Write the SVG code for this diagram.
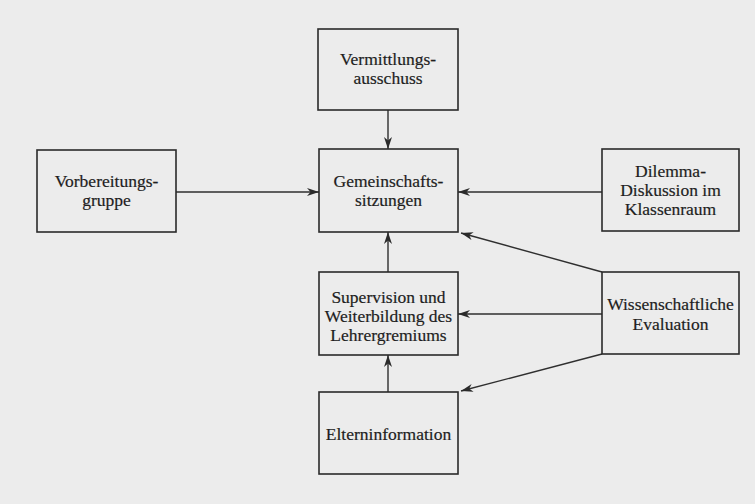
<svg xmlns="http://www.w3.org/2000/svg" width="755" height="504" viewBox="0 0 755 504">
<defs>
<style>
.box{fill:none;stroke:#2a2a2a;stroke-width:1.6}
.t{font-family:"Liberation Serif","Times New Roman",serif;font-size:17.5px;fill:#1e1e1e;text-anchor:middle;stroke:#1e1e1e;stroke-width:0.2}
.c{stroke:#2f2f2f;stroke-width:1.4;fill:none;marker-end:url(#ah)}
</style>
<marker id="ah" viewBox="0 0 12 8" refX="12" refY="4" markerWidth="12" markerHeight="8" markerUnits="userSpaceOnUse" orient="auto">
<path d="M0,0 L12,4 L0,8 L3.5,4 Z" fill="#2a2a2a"/>
</marker>
</defs>
<rect width="755" height="504" fill="#ececec"/>
<g id="connectors">
<line class="c" x1="388" y1="110" x2="388" y2="149"/>
<line class="c" x1="176" y1="192" x2="319" y2="192"/>
<line class="c" x1="602" y1="192" x2="458" y2="192"/>
<line class="c" x1="388" y1="272" x2="388" y2="232"/>
<line class="c" x1="602" y1="314" x2="458" y2="314"/>
<line class="c" x1="388" y1="392" x2="388" y2="355"/>
<line class="c" x1="602" y1="272" x2="461" y2="233"/>
<line class="c" x1="602" y1="354" x2="461" y2="391"/>
</g>
<g id="vermittlungsausschuss">
<rect class="box" x="318" y="29" width="140" height="81"/>
<text class="t" x="388" y="65">Vermittlungs-</text>
<text class="t" x="388" y="84">ausschuss</text>
</g>
<g id="vorbereitungsgruppe">
<rect class="box" x="37" y="150" width="139" height="82"/>
<text class="t" x="106.5" y="187">Vorbereitungs-</text>
<text class="t" x="106.5" y="206">gruppe</text>
</g>
<g id="gemeinschaftssitzungen">
<rect class="box" x="319" y="149" width="139" height="83"/>
<text class="t" x="388.5" y="187">Gemeinschafts-</text>
<text class="t" x="388.5" y="206">sitzungen</text>
</g>
<g id="dilemma">
<rect class="box" x="602" y="149" width="137" height="82"/>
<text class="t" x="670.5" y="177">Dilemma-</text>
<text class="t" x="670.5" y="196">Diskussion im</text>
<text class="t" x="670.5" y="215">Klassenraum</text>
</g>
<g id="supervision">
<rect class="box" x="319" y="272" width="139" height="83"/>
<text class="t" x="388.5" y="303">Supervision und</text>
<text class="t" x="388.5" y="322">Weiterbildung des</text>
<text class="t" x="388.5" y="341">Lehrergremiums</text>
</g>
<g id="evaluation">
<rect class="box" x="602" y="272" width="137" height="82"/>
<text class="t" x="670.5" y="310">Wissenschaftliche</text>
<text class="t" x="670.5" y="330">Evaluation</text>
</g>
<g id="elterninformation">
<rect class="box" x="319" y="392" width="139" height="82"/>
<text class="t" x="388.5" y="440">Elterninformation</text>
</g>
</svg>
